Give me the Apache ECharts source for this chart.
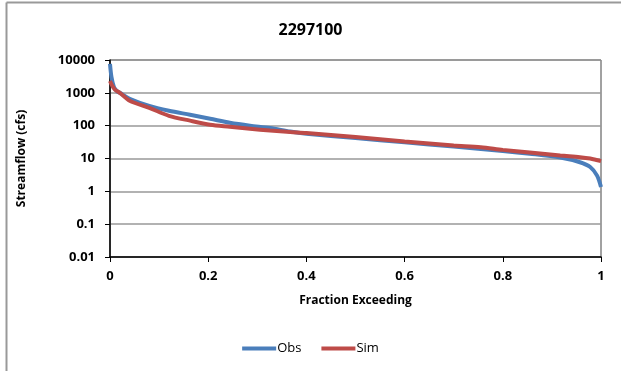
<!DOCTYPE html>
<html><head><meta charset="utf-8">
<script src="https://cdn.jsdelivr.net/npm/echarts@6/dist/echarts.min.js"></script>
<style>html,body{margin:0;padding:0;background:#fff}#c{width:621px;height:371px}</style>
</head><body><div id="c"></div>
<script>
const titleText = '2297100';
const xTicks = [0, 0.2, 0.4, 0.6, 0.8, 1];
const yTicks = [0.01, 0.1, 1, 10, 100, 1000, 10000];
const obsX = [0, 0.003, 0.008, 0.015, 0.02, 0.04, 0.08, 0.12, 0.163, 0.204, 0.244, 0.285, 0.326, 0.367, 0.4, 0.5, 0.6, 0.7, 0.8, 0.855, 0.917, 0.957, 0.978, 0.992, 1.0];
const obsY = [7600, 3000, 1500, 1100, 1000, 660, 400, 285, 215, 163, 123, 100, 85, 66, 57, 42, 31, 23, 17, 14, 10.7, 7.7, 5.5, 3, 1.35];
const simX = [0, 0.004, 0.01, 0.02, 0.04, 0.08, 0.12, 0.163, 0.204, 0.244, 0.285, 0.326, 0.367, 0.4, 0.5, 0.6, 0.7, 0.755, 0.8, 0.855, 0.917, 0.957, 0.978, 1.0];
const simY = [2300, 1700, 1250, 1000, 575, 350, 200, 142, 107, 93, 81, 71, 64, 60, 45, 33, 25, 22, 18.3, 15.2, 12.3, 11, 10, 8.3];
const seriesNames = ['Obs', 'Sim'];
const colors = ['#4A7EBB', '#BE4B48'];

const zip = (xs, ys) => xs.map((x, i) => [x, ys[i]]);
const chart = echarts.init(document.getElementById('c'));
const font = '"Open Sans", "Liberation Sans", sans-serif';
chart.setOption({
  animation: false,
  title: { text: titleText, left: 'center', top: 17, textStyle: { fontFamily: font, fontSize: 16, fontWeight: 'bold', color: '#000' } },
  grid: { left: 110, right: 20, top: 60, bottom: 114, show: true, borderColor: '#444', borderWidth: 1, backgroundColor: 'transparent' },
  legend: { bottom: 11, left: 'center', itemWidth: 34, itemHeight: 4, itemGap: 20, icon: 'rect',
    textStyle: { fontFamily: font, fontSize: 13, color: '#000', padding: [0, 0, 0, -4] },
    data: seriesNames },
  xAxis: { type: 'value', min: 0, max: 1, interval: 0.2,
    name: 'Fraction Exceeding', nameLocation: 'middle', nameGap: 38,
    nameTextStyle: { fontFamily: font, fontSize: 12, fontWeight: 'bold', color: '#000' },
    axisLine: { lineStyle: { color: '#000', width: 1.5 } },
    axisTick: { show: true, inside: false, length: 5, lineStyle: { color: '#000' } },
    splitLine: { show: false },
    axisLabel: { fontFamily: font, fontSize: 13, fontWeight: 'bold', color: '#000', margin: 13,
      formatter: v => { const t = xTicks.find(tt => Math.abs(tt - v) < 1e-9); return t === undefined ? '' : String(t); } } },
  yAxis: { type: 'log', logBase: 10, min: 0.01, max: 10000,
    name: 'Streamflow (cfs)', nameLocation: 'middle', nameGap: 82, nameRotate: 90,
    nameTextStyle: { fontFamily: font, fontSize: 12, fontWeight: 'bold', color: '#000' },
    axisLine: { show: true, lineStyle: { color: '#000', width: 1.5 } },
    axisTick: { show: true, inside: false, length: 5, lineStyle: { color: '#000' } },
    minorTick: { show: false },
    splitLine: { show: true, lineStyle: { color: '#999', width: 1.5 } },
    axisLabel: { fontFamily: font, fontSize: 13, fontWeight: 'bold', color: '#000', margin: 15,
      formatter: v => { const t = yTicks.find(tt => Math.abs(tt - v) / tt < 1e-6); return t === undefined ? '' : String(t); } } },
  graphic: [
    { type: 'line', shape: { x1: 6.5, y1: 2.5, x2: 6.5, y2: 371 }, style: { stroke: '#999', lineWidth: 2 } },
    { type: 'line', shape: { x1: 6.5, y1: 2.5, x2: 621, y2: 2.5 }, style: { stroke: '#999', lineWidth: 2 } }
  ],
  series: [
    { name: seriesNames[0], type: 'line', data: zip(obsX, obsY), showSymbol: false, smooth: 0.3,
      lineStyle: { color: colors[0], width: 4 }, itemStyle: { color: colors[0] } },
    { name: seriesNames[1], type: 'line', data: zip(simX, simY), showSymbol: false, smooth: 0.3,
      lineStyle: { color: colors[1], width: 4 }, itemStyle: { color: colors[1] } }
  ]
});
</script></body></html>
